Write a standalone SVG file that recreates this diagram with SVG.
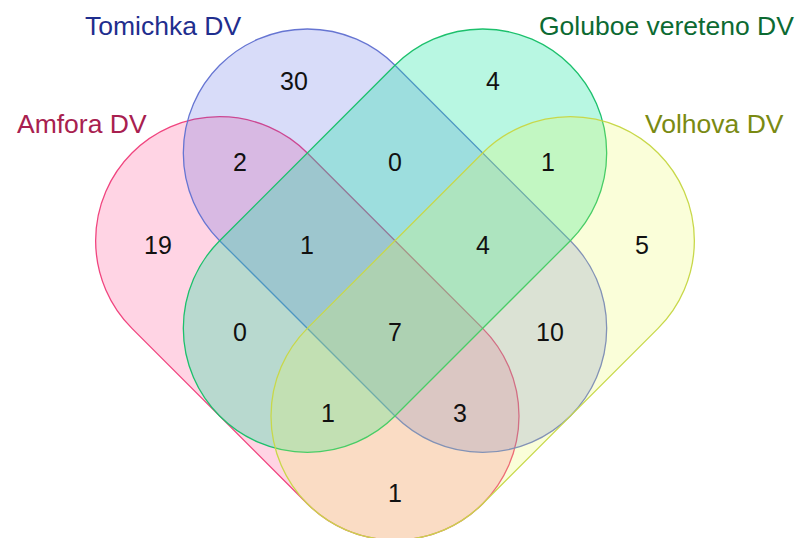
<svg xmlns="http://www.w3.org/2000/svg" width="797" height="538" viewBox="0 0 797 538">
  <style>
    .set { stroke-width: 1.3; }
    .num { font-family: "Liberation Sans", Arial, sans-serif; font-size: 25px; fill: #111; text-anchor: middle; }
    .title { font-family: "Liberation Sans", Arial, sans-serif; font-size: 26.5px; }
  </style>
  <defs>
    <!-- capsule: radius 124, axis length 248 -->
    <rect id="capsule" x="-248" y="-124" width="496" height="248" rx="124" ry="124"/>
  </defs>
  <rect width="797" height="538" fill="#ffffff"/>

  <g id="amfora">
    <use href="#capsule" class="set" transform="translate(307.32 328.36) rotate(45)" fill="rgb(255,40,120)" fill-opacity="0.2" stroke="#F0457F"/>
  </g>
  <g id="tomichka">
    <use href="#capsule" class="set" transform="translate(395 240.68) rotate(45)" fill="rgb(60,80,225)" fill-opacity="0.2" stroke="#6675D2"/>
  </g>
  <g id="goluboe">
    <use href="#capsule" class="set" transform="translate(395 240.68) rotate(-45)" fill="rgb(20,228,160)" fill-opacity="0.3" stroke="#1CC06C"/>
  </g>
  <g id="volhova">
    <use href="#capsule" class="set" transform="translate(482.68 328.36) rotate(-45)" fill="rgb(232,250,80)" fill-opacity="0.22" stroke="#C8D84A"/>
  </g>

  <g id="titles">
    <text class="title" x="85" y="35" fill="#1F2E8E">Tomichka DV</text>
    <text class="title" x="17" y="133" fill="#A8204F">Amfora DV</text>
    <text class="title" x="539" y="35" fill="#0C6A32">Goluboe vereteno DV</text>
    <text class="title" x="645" y="133" fill="#7A8A12">Volhova DV</text>
  </g>

  <g id="counts">
    <text class="num" x="294" y="90">30</text>
    <text class="num" x="493" y="90">4</text>
    <text class="num" x="240" y="171">2</text>
    <text class="num" x="395" y="171">0</text>
    <text class="num" x="548" y="171">1</text>
    <text class="num" x="158" y="254">19</text>
    <text class="num" x="307" y="254">1</text>
    <text class="num" x="483" y="254">4</text>
    <text class="num" x="642" y="254">5</text>
    <text class="num" x="240" y="341">0</text>
    <text class="num" x="395" y="341">7</text>
    <text class="num" x="550" y="341">10</text>
    <text class="num" x="328" y="422">1</text>
    <text class="num" x="460" y="422">3</text>
    <text class="num" x="395" y="502">1</text>
  </g>
</svg>
